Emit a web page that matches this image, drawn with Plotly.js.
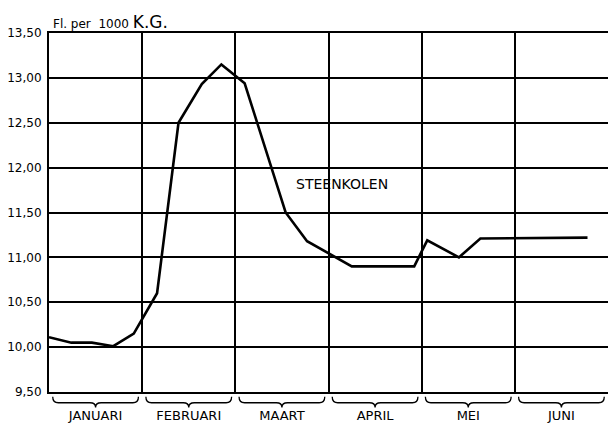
<!DOCTYPE html>
<html>
<head>
<meta charset="utf-8">
<script src="https://cdn.plot.ly/plotly-3.0.1.min.js"></script>
<style>html,body{margin:0;padding:0;background:#fff;}#chart{width:608px;height:423px;}</style>
</head>
<body>
<div id="chart"></div>
<script>
// Position in months (0 = start of January), price in guilders per 1000 kg
const monthPos = [0, 0.24, 0.46, 0.69, 0.91, 1.16, 1.39, 1.64, 1.85, 2.10, 2.54, 2.77, 3.25, 3.92, 4.06, 4.40, 4.63, 5.78];
const steenkolen = [10.11, 10.05, 10.05, 10.01, 10.15, 10.60, 12.50, 12.93, 13.15, 12.94, 11.50, 11.18, 10.90, 10.90, 11.19, 11.00, 11.21, 11.22];
const months = ["JANUARI", "FEBRUARI", "MAART", "APRIL", "MEI", "JUNI"];
const yTickVals = [9.5, 10, 10.5, 11, 11.5, 12, 12.5, 13, 13.5];
const yTickText = ["9,50", "10,00", "10,50", "11,00", "11,50", "12,00", "12,50", "13,00", "13,50"];
const seriesName = "STEENKOLEN";
const unitLabel = 'Fl. per  1000 <span style="font-size:17px">K.G.</span>';

const FONT = "DejaVu Sans, sans-serif";
const monthCenters = months.map((m, i) => i + 0.5);
const monthEdges = months.map((m, i) => i).concat([months.length]);

// curly braces under each month
function bracePath(a, b) {
  const m = (a + b) / 2, e = -0.013, l = -0.030, t = -0.043;
  const i = 0.04, c = 0.06;
  return `M ${a + i} ${e} Q ${a + i} ${l} ${a + i + c} ${l} L ${m - c} ${l} Q ${m} ${l} ${m} ${t} Q ${m} ${l} ${m + c} ${l} L ${b - i - c} ${l} Q ${b - i} ${l} ${b - i} ${e}`;
}
const shapes = months.map((m, i) => ({
  type: "path", xref: "x", yref: "paper", path: bracePath(i, i + 1),
  line: {color: "#000", width: 1.3}
}));

const trace = {
  x: monthPos, y: steenkolen, type: "scatter", mode: "lines",
  line: {color: "#000", width: 2.6}, name: seriesName, showlegend: false
};

const layout = {
  width: 608, height: 423,
  margin: {l: 49, r: 0, t: 33, b: 31, pad: 0},
  paper_bgcolor: "#fff", plot_bgcolor: "#fff",
  font: {family: FONT, color: "#000", size: 12},
  showlegend: false,
  xaxis: {
    range: [0, months.length], fixedrange: true,
    tickmode: "array", tickvals: monthCenters, ticktext: months,
    showgrid: false, zeroline: false,
    ticks: "outside", ticklen: 10, tickcolor: "rgba(0,0,0,0)",
    tickfont: {family: FONT, size: 13, color: "#000"},
    showline: true, linecolor: "#000", linewidth: 2, mirror: true,
    minor: {tickmode: "array", tickvals: monthEdges, showgrid: true, gridcolor: "#000", gridwidth: 2, ticks: ""}
  },
  yaxis: {
    range: [9.5, 13.5], fixedrange: true,
    tickmode: "array", tickvals: yTickVals, ticktext: yTickText,
    showgrid: true, gridcolor: "#000", gridwidth: 2, zeroline: false,
    ticks: "outside", ticklen: 3, tickcolor: "rgba(0,0,0,0)",
    tickfont: {family: FONT, size: 12, color: "#000"},
    showline: true, linecolor: "#000", linewidth: 2
  },
  shapes: shapes,
  annotations: [
    {xref: "paper", yref: "paper", x: 0, y: 1, xanchor: "left", yanchor: "bottom",
     yshift: -1, xshift: 2, text: unitLabel, showarrow: false,
     font: {family: FONT, size: 12, color: "#000"}},
    {xref: "x", yref: "y", x: 3.14, y: 11.82, text: seriesName, showarrow: false,
     font: {family: FONT, size: 14, color: "#000"}}
  ]
};

Plotly.newPlot("chart", [trace], layout, {displayModeBar: false, staticPlot: true});
</script>
</body>
</html>
